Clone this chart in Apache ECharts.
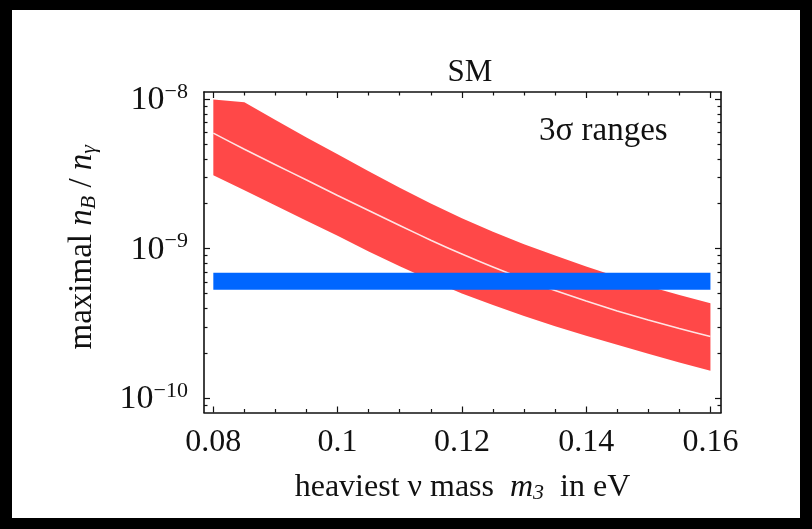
<!DOCTYPE html>
<html>
<head>
<meta charset="utf-8">
<script src="https://cdn.jsdelivr.net/npm/echarts@6/dist/echarts.min.js"></script>
<style>
  html, body { margin: 0; padding: 0; background: #fff; }
  #chart { position: absolute; left: 0; top: 0; width: 812px; height: 529px; }
  #edge {
    position: absolute; left: 0; top: 0; width: 812px; height: 529px;
    box-sizing: border-box; border-style: solid; border-color: #000;
    border-width: 10px 12px 11px 12px; pointer-events: none;
  }
</style>
</head>
<body>
<div id="chart"></div>
<div id="edge"></div>
<script>
// Heaviest neutrino mass m3 (eV) sampled along the band
const massEV = [0.08, 0.085, 0.09, 0.095, 0.10, 0.105, 0.11, 0.115, 0.12, 0.125, 0.13, 0.135, 0.14, 0.145, 0.15, 0.155, 0.16];
// Maximal baryon-to-photon ratio: 3-sigma upper edge, central curve, lower edge
const nbUpper = [9.97e-9, 9.58e-9, 7.28e-9, 5.56e-9, 4.29e-9, 3.30e-9, 2.56e-9, 2.01e-9, 1.60e-9, 1.30e-9, 1.07e-9, 8.99e-10, 7.60e-10, 6.50e-10, 5.61e-10, 4.90e-10, 4.32e-10];
const nbCentral = [5.94e-9, 4.63e-9, 3.65e-9, 2.88e-9, 2.27e-9, 1.80e-9, 1.43e-9, 1.14e-9, 9.20e-10, 7.53e-10, 6.25e-10, 5.25e-10, 4.46e-10, 3.83e-10, 3.33e-10, 2.92e-10, 2.58e-10];
const nbLower = [3.10e-9, 2.46e-9, 1.95e-9, 1.54e-9, 1.22e-9, 9.59e-10, 7.62e-10, 6.14e-10, 5.02e-10, 4.19e-10, 3.54e-10, 3.03e-10, 2.61e-10, 2.27e-10, 1.98e-10, 1.73e-10, 1.52e-10];
// Observed n_B/n_gamma range and the mass span it is drawn over
const observedBand = [5.3e-10, 6.9e-10];
const observedSpan = [0.08, 0.16];

// Tick positions
const xMajorTicks = [0.08, 0.10, 0.12, 0.14, 0.16];
const xMinorTicks = [0.085, 0.09, 0.095, 0.105, 0.11, 0.115, 0.125, 0.13, 0.135, 0.145, 0.15, 0.155];
const yMajorTicks = [1e-10, 1e-9, 1e-8];
const yMinorTicks = [9e-11, 2e-10, 3e-10, 4e-10, 5e-10, 6e-10, 7e-10, 8e-10, 9e-10,
                     2e-9, 3e-9, 4e-9, 5e-9, 6e-9, 7e-9, 8e-9, 9e-9];

const X_RANGE = [0.0785, 0.1617];
const Y_RANGE = [8e-11, 1.12e-8];

const FONT = 'Liberation Serif';
const INK = '#111';
const RED = '#ff4848';
const BLUE = '#0066ff';

const lg = v => Math.log10(v);
const yLogMin = lg(Y_RANGE[0]);
const yLogMax = lg(Y_RANGE[1]);

function xAxisDef(pos, ticks, len, withLine, withLabels) {
  return {
    type: 'value', position: pos, min: X_RANGE[0], max: X_RANGE[1],
    axisLine: { show: withLine, onZero: false, lineStyle: { color: INK, width: 1.6 } },
    axisTick: { show: true, inside: true, length: len, customValues: ticks, lineStyle: { color: INK, width: 1.2 } },
    axisLabel: withLabels ? {
      show: true, customValues: ticks, margin: 14,
      fontFamily: FONT, fontSize: 32, color: INK,
      formatter: v => String(+(+v).toFixed(3))
    } : { show: false },
    splitLine: { show: false }
  };
}

function yTickAxisDef(pos, ticks, len, withLine, withLabels) {
  return {
    type: 'value', position: pos, min: yLogMin, max: yLogMax,
    axisLine: { show: withLine, onZero: false, lineStyle: { color: INK, width: 1.6 } },
    axisTick: { show: true, inside: true, length: len, customValues: ticks.map(lg), lineStyle: { color: INK, width: 1.2 } },
    axisLabel: withLabels ? {
      show: true, customValues: ticks.map(lg), margin: 16,
      formatter: v => {
        const e = Math.round(v);
        return '{b|10}{s|' + (e < 0 ? '\u2212' : '') + Math.abs(e) + '}';
      },
      rich: {
        b: { fontFamily: FONT, fontSize: 34, color: INK, lineHeight: 36, verticalAlign: 'bottom' },
        s: { fontFamily: FONT, fontSize: 22, color: INK, lineHeight: 36, verticalAlign: 'top', padding: [0, 0, 12, 0] }
      }
    } : { show: false },
    splitLine: { show: false }
  };
}

// Filled polygon between a lower and an upper curve, placed through the axes
function bandRenderer(xs, los, his, color) {
  return function (params, api) {
    if (params.dataIndex !== 0) return null;
    const pts = [];
    for (let i = 0; i < xs.length; i++) pts.push(api.coord([xs[i], his[i]]));
    for (let i = xs.length - 1; i >= 0; i--) pts.push(api.coord([xs[i], los[i]]));
    return {
      type: 'polygon',
      shape: { points: pts },
      style: { fill: color, stroke: null }
    };
  };
}

const chart = echarts.init(document.getElementById('chart'), null, { renderer: 'canvas' });

const yTitleAxis = yTickAxisDef('left', yMajorTicks, 6, true, true);
Object.assign(yTitleAxis, {
  name: '{r|maximal }{i|n}{sub|B}{r| / }{i|n}{sub|\u03b3}',
  nameLocation: 'middle', nameRotate: 90, nameGap: 104,
  nameTextStyle: {
    padding: [0, 0, 0, 10],
    rich: {
      r: { fontFamily: FONT, fontSize: 33, color: INK, lineHeight: 36 },
      i: { fontFamily: FONT, fontSize: 33, fontStyle: 'italic', color: INK, lineHeight: 36 },
      sub: { fontFamily: FONT, fontSize: 22, fontStyle: 'italic', color: INK, lineHeight: 36, verticalAlign: 'bottom' }
    }
  }
});

const xTitleAxis = xAxisDef('bottom', xMajorTicks, 6, true, true);
Object.assign(xTitleAxis, {
  name: '{r|heaviest \u03bd mass  }{i|m}{sub|3}{r|  in eV}',
  nameLocation: 'middle', nameGap: 58,
  nameTextStyle: {
    rich: {
      r: { fontFamily: FONT, fontSize: 32, color: INK, lineHeight: 34 },
      i: { fontFamily: FONT, fontSize: 32, fontStyle: 'italic', color: INK, lineHeight: 34 },
      sub: { fontFamily: FONT, fontSize: 22, fontStyle: 'italic', color: INK, lineHeight: 34, verticalAlign: 'bottom' }
    }
  }
});

const option = {
  animation: false,
  backgroundColor: '#fff',
  title: {
    text: 'SM', left: 465, top: 52, textAlign: 'center',
    textStyle: { fontFamily: FONT, fontSize: 31, fontWeight: 'normal', color: INK }
  },
  grid: { left: 204, right: 91, top: 92, bottom: 116.5, containLabel: false },
  xAxis: [
    xTitleAxis,
    xAxisDef('bottom', xMinorTicks, 3.5, false, false),
    xAxisDef('top', xMajorTicks, 6, true, false),
    xAxisDef('top', xMinorTicks, 3.5, false, false)
  ],
  yAxis: [
    { type: 'log', logBase: 10, min: Y_RANGE[0], max: Y_RANGE[1], show: false },
    yTitleAxis,
    yTickAxisDef('left', yMinorTicks, 3.5, false, false),
    yTickAxisDef('right', yMajorTicks, 6, true, false),
    yTickAxisDef('right', yMinorTicks, 3.5, false, false)
  ],
  graphic: [{
    type: 'text', left: 539, top: 115,
    style: { text: '3\u03c3 ranges', font: '33px "Liberation Serif"', fill: INK }
  }],
  series: [
    {
      type: 'custom', xAxisIndex: 0, yAxisIndex: 0, z: 2, silent: true,
      data: massEV.map((x, i) => [x, nbLower[i], nbUpper[i]]),
      encode: { x: 0, y: [1, 2] },
      renderItem: bandRenderer(massEV, nbLower, nbUpper, RED)
    },
    {
      type: 'line', xAxisIndex: 0, yAxisIndex: 0, z: 3, smooth: 0.25,
      data: massEV.map((x, i) => [x, nbCentral[i]]),
      symbol: 'none', lineStyle: { color: '#ffe4e4', width: 1.6 }, silent: true
    },
    {
      type: 'custom', xAxisIndex: 0, yAxisIndex: 0, z: 4, silent: true,
      data: observedSpan.map(x => [x, observedBand[0], observedBand[1]]),
      encode: { x: 0, y: [1, 2] },
      renderItem: bandRenderer(observedSpan, observedSpan.map(() => observedBand[0]),
                               observedSpan.map(() => observedBand[1]), BLUE)
    }
  ]
};

chart.setOption(option);
</script>
</body>
</html>
